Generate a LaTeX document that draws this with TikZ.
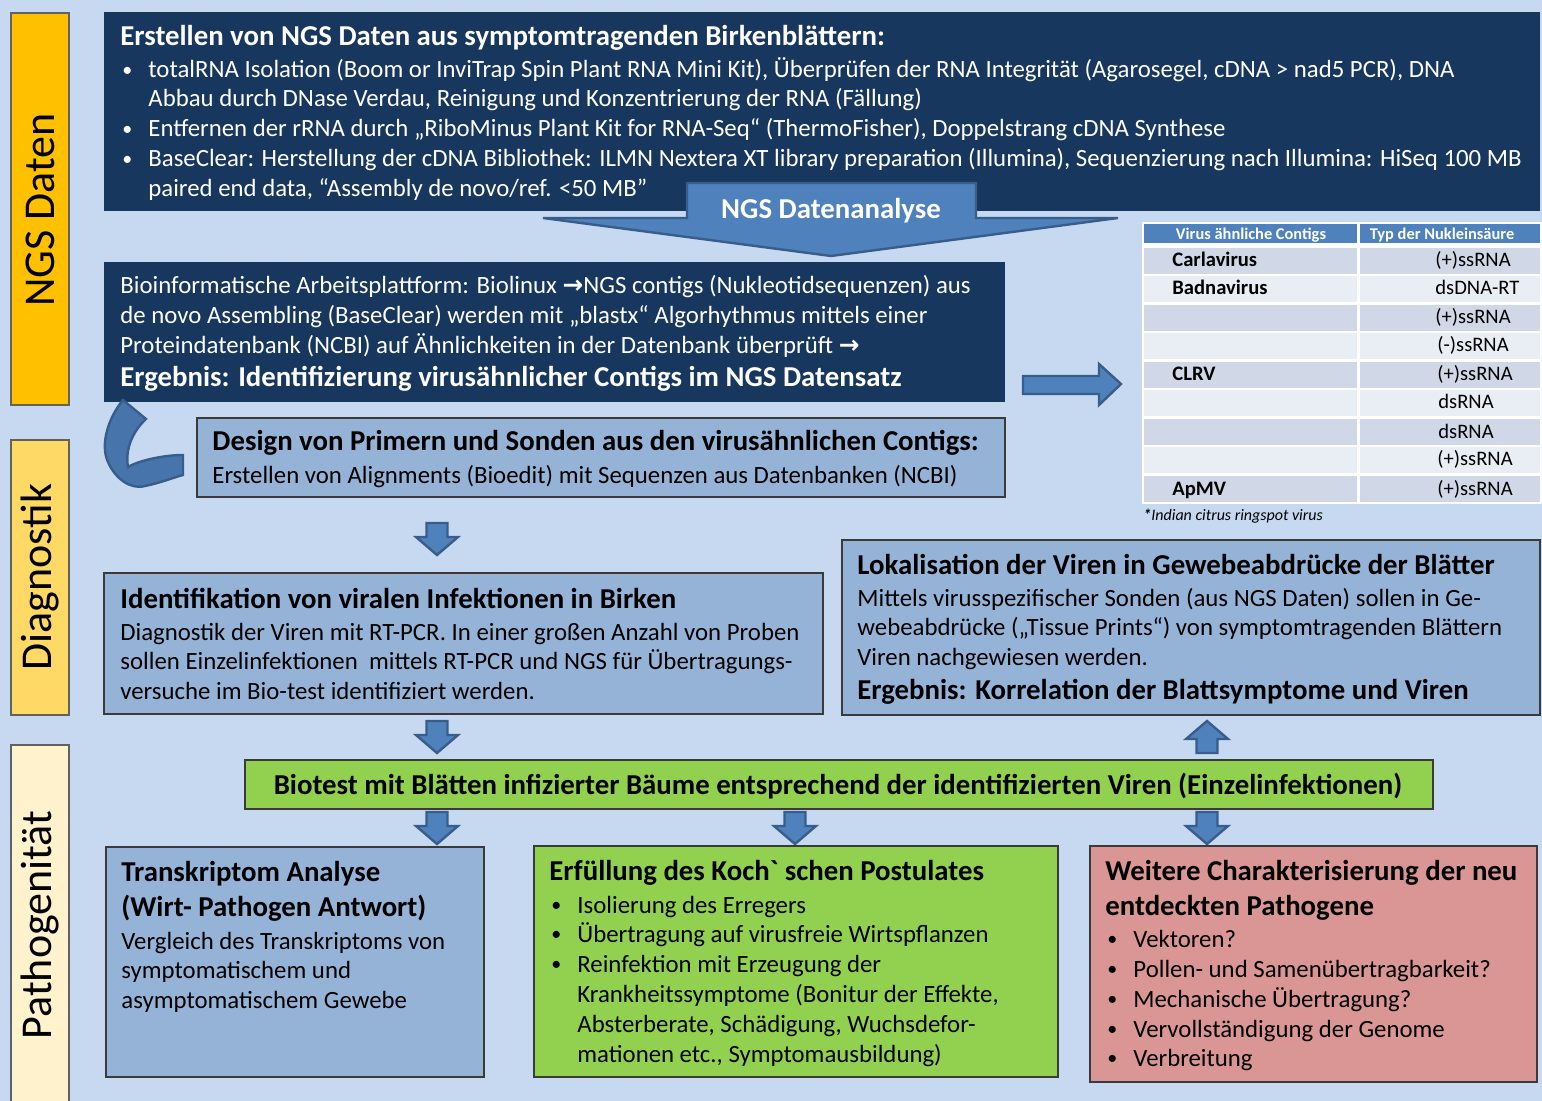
\documentclass[tikz,border=0pt]{standalone}
\usepackage{fontspec}
\setmainfont{Carlito}
\newfontfamily\symf{DejaVu Sans}
\usetikzlibrary{fit}
\definecolor{bg}{HTML}{C6D9F1}
\definecolor{navy}{HTML}{17375E}
\definecolor{lblue}{HTML}{95B3D7}
\definecolor{acc}{HTML}{4F81BD}
\definecolor{accd}{HTML}{385D8A}
\definecolor{grn}{HTML}{92D050}
\definecolor{rose}{HTML}{D99694}
\definecolor{org}{HTML}{FFC000}
\definecolor{gold}{HTML}{FFD966}
\definecolor{pale}{HTML}{FFF2CC}
\definecolor{rowd}{HTML}{D0D8E8}
\definecolor{rowl}{HTML}{E9EDF4}
\definecolor{bord}{HTML}{3A3A3A}
\tikzset{
  box/.style={draw=bord, line width=0.6pt, inner sep=0pt, outer sep=0pt},
  navybox/.style={fill=navy, inner sep=0pt, outer sep=0pt},
  lbl/.style={draw=bord!80, line width=0.6pt, inner sep=0pt, outer sep=0pt},
  blk/.style={fill=acc, draw=accd, line width=1.2pt, line join=miter},
  txt/.style={anchor=base west, inner sep=0pt, font=\fontsize{12.4}{15}\selectfont},
  ttl/.style={anchor=base west, inner sep=0pt, font=\bfseries\fontsize{14.4}{17}\selectfont},
  wt/.style={text=white},
  tb/.style={anchor=base west, inner sep=0pt, font=\fontsize{10.3}{12}\selectfont},
  tbb/.style={anchor=base west, inner sep=0pt, font=\bfseries\fontsize{10.3}{12}\selectfont},
  side/.style={rotate=90, inner sep=0pt, font=\fontsize{22}{26}\selectfont},
}
\newcommand\bul{\makebox[13pt][l]{\raisebox{0.6pt}{\fontsize{10}{10}\selectfont •}}}
\newcommand\darrow[2]{%
  \draw[blk] ({#1-10.5},{#2}) -- ({#1+10.5},{#2}) -- ({#1+10.5},{#2+14}) -- ({#1+21},{#2+14}) -- ({#1},{#2+32}) -- ({#1-21},{#2+14}) -- ({#1-10.5},{#2+14}) -- cycle;}
\newcommand\uarrow[2]{%
  \draw[blk] ({#1-10.5},{#2}) -- ({#1+10.5},{#2}) -- ({#1+10.5},{#2-14}) -- ({#1+21},{#2-14}) -- ({#1},{#2-32}) -- ({#1-21},{#2-14}) -- ({#1-10.5},{#2-14}) -- cycle;}
\begin{document}
\begin{tikzpicture}[x=0.5pt,y=-0.5pt]
\useasboundingbox (0,0) rectangle (1542,1101);
\fill[bg] (0,0) rectangle (1542,1101);

% side labels
\node[lbl, fill=org, fit={(11,13)(69,405)}] (s1) {};
\node[side] (s1t) at (40,210) {NGS Daten};
\node[lbl, fill=gold, fit={(11,440)(69,715)}] (s2) {};
\node[side] (s2t) at (40,577) {Diagnostik};
\node[lbl, fill=pale, fit={(11,745)(69,1110)}] (s3) {};
\node[side] (s3t) at (40,925) {Pathogenität};

% top navy box
\node[navybox, fit={(104,12)(1540,211)}] (top) {};
\node[ttl, wt] (a0) at (120,46) {Erstellen von NGS Daten aus symptomtragenden Birkenblättern:};
\node[txt, wt] (a1) at (122,78) {\bul totalRNA Isolation (Boom or InviTrap Spin Plant RNA Mini Kit), Überprüfen der RNA Integrität (Agarosegel, cDNA > nad5 PCR), DNA};
\node[txt, wt] (a2) at (148,107) {Abbau durch DNase Verdau, Reinigung und Konzentrierung der RNA (Fällung)};
\node[txt, wt] (a3) at (122,137) {\bul Entfernen der rRNA durch „RiboMinus Plant Kit for RNA-Seq“ (ThermoFisher), Doppelstrang cDNA Synthese};
\node[txt, wt] (a4) at (122,167) {\bul BaseClear: Herstellung der cDNA Bibliothek: ILMN Nextera XT library preparation (Illumina), Sequenzierung nach Illumina: HiSeq 100 MB};
\node[txt, wt] (a5) at (148,197) {paired end data, “Assembly de novo/ref. <50 MB”};

% big arrow
\draw[blk] (687,183) -- (976,183) -- (976,218) -- (1118,218) -- (831,256) -- (543,218) -- (687,218) -- cycle;
\node[anchor=base, inner sep=0pt, text=white, font=\bfseries\fontsize{14.4}{17}\selectfont] (arr) at (831,219) {NGS Datenanalyse};

% second navy box
\node[navybox, fit={(104,262)(1005,402)}] (bio) {};
\node[txt, wt] (b1) at (120,294) {Bioinformatische Arbeitsplattform: Biolinux {\symf\bfseries →}NGS contigs (Nukleotidsequenzen) aus};
\node[txt, wt] (b2) at (120,324) {de novo Assembling (BaseClear) werden mit „blastx“ Algorhythmus mittels einer};
\node[txt, wt] (b3) at (120,354) {Proteindatenbank (NCBI) auf Ähnlichkeiten in der Datenbank überprüft {\symf\bfseries →}};
\node[ttl, wt] (b4) at (120,387) {Ergebnis: Identifizierung virusähnlicher Contigs im NGS Datensatz};

% right arrow
\draw[blk] (1023,376) -- (1099,376) -- (1099,364) -- (1121,384) -- (1099,405) -- (1099,394) -- (1023,394) -- cycle;

% table
\fill[white] (1142,222) rectangle (1542,504);
\fill[acc] (1144,224) rectangle (1357,243);
\fill[acc] (1360,224) rectangle (1540,243);
\foreach \i in {0,...,8}{
  \pgfmathsetmacro\yt{248+\i*28.45}
  \pgfmathsetmacro\yb{\yt+26}
  \pgfmathparse{mod(\i,2)==0 ? "rowd" : "rowl"}
  \edef\rc{\pgfmathresult}
  \fill[\rc] (1144,\yt) rectangle (1357,\yb);
  \fill[\rc] (1360,\yt) rectangle (1540,\yb);
}
\node[anchor=base, inner sep=0pt, text=white, font=\bfseries\fontsize{8.2}{10}\selectfont] (h1) at (1251,240) {Virus ähnliche Contigs};
\node[anchor=base, inner sep=0pt, text=white, font=\bfseries\fontsize{8.2}{10}\selectfont] (h2) at (1442,240) {Typ der Nukleinsäure};
\node[tbb] (c1) at (1172,267) {Carlavirus};
\node[tbb] (c2) at (1172,295) {Badnavirus};
\node[tbb] (c5) at (1172,381) {CLRV};
\node[tbb] (c9) at (1172,495) {ApMV};
\node[tb] (d1) at (1435,267) {(+)ssRNA};
\node[tb] (d2) at (1435,295) {dsDNA-RT};
\node[tb] (d3) at (1435,324) {(+)ssRNA};
\node[tb] (d4) at (1437,352) {(-)ssRNA};
\node[tb] (d5) at (1437,381) {(+)ssRNA};
\node[tb] (d6) at (1438,409) {dsRNA};
\node[tb] (d7) at (1438,438) {dsRNA};
\node[tb] (d8) at (1437,466) {(+)ssRNA};
\node[tb] (d9) at (1437,495) {(+)ssRNA};
\node[anchor=base west, inner sep=0pt, font=\itshape\fontsize{8}{9}\selectfont] (fn) at (1143,520) {\textbf{*}Indian citrus ringspot virus};

% curved arrow
\draw[blk, fill=acc!90!black] (123,400) .. controls (108,418) and (100,445) .. (108,462) .. controls (115,478) and (130,490) .. (145,486) .. controls (160,483) and (172,478) .. (183,475) -- (183,455) .. controls (165,455) and (140,460) .. (128,467) .. controls (125,450) and (132,432) .. (146,419) -- cycle;

% design box
\node[box, fill=lblue, fit={(197,418)(1005,497)}] (des) {};
\node[ttl] (e1) at (212,451) {Design von Primern und Sonden aus den virusähnlichen Contigs:};
\node[txt] (e2) at (212,483) {Erstellen von Alignments (Bioedit) mit Sequenzen aus Datenbanken (NCBI)};

\darrow{437}{523}

% Identifikation
\node[box, fill=lblue, fit={(104,573)(823,714)}] (ide) {};
\node[ttl] (f1) at (120,608) {Identifikation von viralen Infektionen in Birken};
\node[txt] (f2) at (120,640) {Diagnostik der Viren mit RT-PCR. In einer großen Anzahl von Proben};
\node[txt] (f3) at (120,669) {sollen Einzelinfektionen\ \ mittels RT-PCR und NGS für Übertragungs-};
\node[txt] (f4) at (120,699) {versuche im Bio-test identifiziert werden.};

% Lokalisation
\node[box, fill=lblue, fit={(842,540)(1540,715)}] (lok) {};
\node[ttl] (g1) at (857,574) {Lokalisation der Viren in Gewebeabdrücke der Blätter};
\node[txt] (g2) at (857,606) {Mittels virusspezifischer Sonden (aus NGS Daten) sollen in Ge-};
\node[txt] (g3) at (857,635) {webeabdrücke („Tissue Prints“) von symptomtragenden Blättern};
\node[txt] (g4) at (857,665) {Viren nachgewiesen werden.};
\node[ttl] (g5) at (857,699) {Ergebnis: Korrelation der Blattsymptome und Viren};

\darrow{437}{721}
\uarrow{1207}{753}

% Biotest
\node[box, fill=grn, fit={(245,760)(1433,809)}] (bt) {};
\node[anchor=base, inner sep=0pt, font=\bfseries\fontsize{14.4}{17}\selectfont] (btt) at (838,794) {Biotest mit Blätten infizierter Bäume entsprechend der identifizierten Viren (Einzelinfektionen)};

\darrow{437}{812}
\darrow{795}{812}
\darrow{1207}{812}

% Transkriptom
\node[box, fill=lblue, fit={(106,847)(484,1077)}] (tr) {};
\node[ttl] (i1) at (121,881) {Transkriptom Analyse};
\node[ttl] (i2) at (121,916) {(Wirt- Pathogen Antwort)};
\node[txt] (i3) at (121,949) {Vergleich des Transkriptoms von};
\node[txt] (i4) at (121,978) {symptomatischem und};
\node[txt] (i5) at (121,1008) {asymptomatischem Gewebe};

% Koch
\node[box, fill=grn, fit={(534,846)(1058,1077)}] (ko) {};
\node[ttl] (j1) at (549,880) {Erfüllung des Koch\textasciigrave\ schen Postulates};
\node[txt] (j2) at (551,913) {\bul Isolierung des Erregers};
\node[txt] (j3) at (551,942) {\bul Übertragung auf virusfreie Wirtspflanzen};
\node[txt] (j4) at (551,972) {\bul Reinfektion mit Erzeugung der};
\node[txt] (j5) at (577,1002) {Krankheitssymptome (Bonitur der Effekte,};
\node[txt] (j6) at (577,1032) {Absterberate, Schädigung, Wuchsdefor-};
\node[txt] (j7) at (577,1062) {mationen etc., Symptomausbildung)};

% Weitere
\node[box, fill=rose, fit={(1090,846)(1537,1082)}] (we) {};
\node[ttl] (k1) at (1105,880) {Weitere Charakterisierung der neu};
\node[ttl] (k2) at (1105,915) {entdeckten Pathogene};
\node[txt] (k3) at (1107,947) {\bul Vektoren?};
\node[txt] (k4) at (1107,977) {\bul Pollen- und Samenübertragbarkeit?};
\node[txt] (k5) at (1107,1007) {\bul Mechanische Übertragung?};
\node[txt] (k6) at (1107,1037) {\bul Vervollständigung der Genome};
\node[txt] (k7) at (1107,1066) {\bul Verbreitung};
\end{tikzpicture}
\end{document}
